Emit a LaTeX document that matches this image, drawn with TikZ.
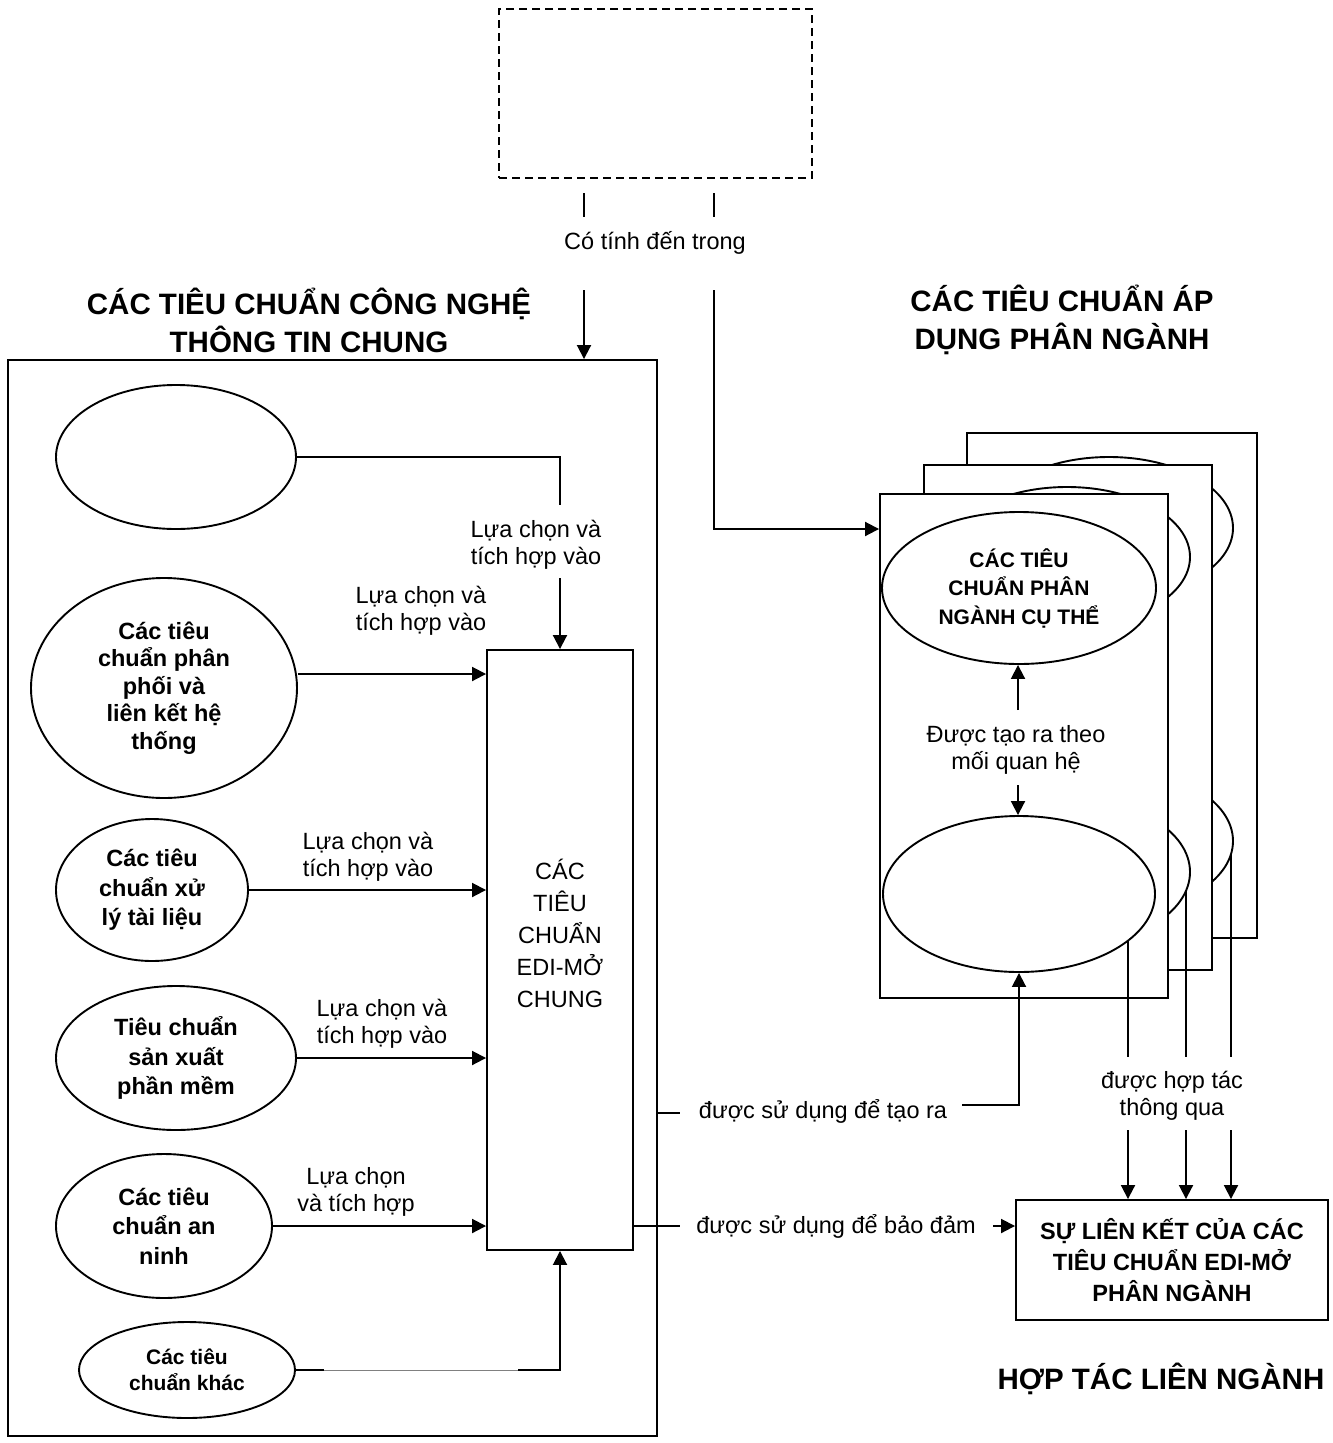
\documentclass[tikz,border=0pt]{standalone}
\usepackage{fontspec}
\setmainfont{Liberation Sans}
\usetikzlibrary{shapes.geometric,arrows.meta,calc}
\begin{document}
\begin{tikzpicture}[x=1pt,y=-1pt, line width=1.9pt,
  every node/.style={inner sep=0pt},
  lbl/.style={align=center, font=\fontsize{23.5}{27.5}\selectfont},
  btxt/.style={align=center, font=\bfseries\fontsize{23.5}{29.5}\selectfont},
  title/.style={align=center, font=\bfseries\fontsize{29.5}{38}\selectfont},
  ell/.style={draw, ellipse, fill=white, inner sep=0pt},
  box/.style={draw, rectangle, fill=white},
  arr/.style={-{Triangle[length=14pt,width=14pt]}},
]
\useasboundingbox (0,0) rectangle (1333,1443);

% top dashed box
\node[draw, dash pattern=on 8pt off 5pt, line width=1.6pt, minimum width=313pt, minimum height=169pt] (dbox) at (655.5,93.5) {};
\coordinate (s1a) at (584,193); \coordinate (s1b) at (584,217);
\coordinate (s2a) at (714,193); \coordinate (s2b) at (714,217);
\draw (s1a) -- (s1b);
\draw (s2a) -- (s2b);
\node[lbl] (cotinh) at (655,243) {Có tính đến trong};

% titles
\node[title] (t1) at (309,320) {CÁC TIÊU CHUẨN CÔNG NGHỆ\\THÔNG TIN CHUNG};
\node[title] (t2) at (1062,320) {CÁC TIÊU CHUẨN ÁP\\DỤNG PHÂN NGÀNH};
\node[title] (t3) at (1161,1379) {HỢP TÁC LIÊN NGÀNH};

% big left box
\node[draw, minimum width=649pt, minimum height=1076pt] (big) at (332.5,898) {};

% EDI box
\node[box, minimum width=146pt, minimum height=600pt] (edi) at (560,950) {};
\node[align=center, font=\fontsize{23.5}{32}\selectfont] (editxt) at (560,933) {CÁC\\TIÊU\\CHUẨN\\EDI-MỞ\\CHUNG};

% left ellipses
\node[ell, minimum width=240pt, minimum height=144pt] (e1) at (176,457) {};
\node[ell, minimum width=266pt, minimum height=220pt, btxt, font=\bfseries\fontsize{23.5}{27.5}\selectfont] (e2) at (164,688) {Các tiêu\\chuẩn phân\\phối và\\liên kết hệ\\thống};
\node[ell, minimum width=192pt, minimum height=142pt, btxt] (e3) at (152,890) {Các tiêu\\chuẩn xử\\lý tài liệu};
\node[ell, minimum width=240pt, minimum height=144pt, btxt] (e4) at (176,1058) {Tiêu chuẩn\\sản xuất\\phần mềm};
\node[ell, minimum width=216pt, minimum height=144pt, btxt] (e5) at (164,1226) {Các tiêu\\chuẩn an\\ninh};
\node[ell, minimum width=216pt, minimum height=96pt, btxt, font=\bfseries\fontsize{21}{26}\selectfont] (e6) at (187,1370) {Các tiêu\\chuẩn khác};

% left connectors
\coordinate (k1) at (560,505);
\coordinate (k1b) at (560,578);
\draw (e1.east) -| (k1);
\draw[arr] (k1b) -- (k1b |- edi.north);
\node[lbl] (lb1) at (536,545) {Lựa chọn và\\tích hợp vào};

\coordinate (c2) at ([yshift=14pt]e2.east);
\draw[arr] (c2) -- (c2 -| edi.west);
\node[lbl] (lb2) at (421,611) {Lựa chọn và\\tích hợp vào};

\draw[arr] (e3.east) -- (e3.east -| edi.west);
\node[lbl] (lb3) at (368,857) {Lựa chọn và\\tích hợp vào};

\draw[arr] (e4.east) -- (e4.east -| edi.west);
\node[lbl] (lb4) at (382,1024) {Lựa chọn và\\tích hợp vào};

\draw[arr] (e5.east) -- (e5.east -| edi.west);
\node[lbl] (lb5) at (356,1192) {Lựa chọn\\và tích hợp};

\coordinate (g1) at (324,1370);
\coordinate (g2) at (518,1370);
\draw (e6.east) -- (g1);
\draw[line width=0.8pt, gray] (g1) -- (g2);
\draw[arr] (g2) -| (edi.south);

% arrow from top into big box
\coordinate (l1) at (584,290);
\draw[arr] (l1) -- (l1 |- big.north);

% stacked boxes (back to front)
\node[box, minimum width=290pt, minimum height=505pt] (bbox) at (1112,685.5) {};
\node[ell, minimum width=248pt, minimum height=142pt] (btop) at (1109,528) {};
\node[ell, minimum width=248pt, minimum height=146pt] (bbot) at (1109,841) {};
\node[box, minimum width=288pt, minimum height=505pt] (mbox) at (1068,717.5) {};
\node[ell, minimum width=246pt, minimum height=140pt] (mtop) at (1067,557) {};
\node[ell, minimum width=246pt, minimum height=148pt] (mbot) at (1067,872) {};
\node[box, minimum width=288pt, minimum height=504pt] (fbox) at (1024,746) {};
\node[ell, minimum width=274pt, minimum height=152pt, btxt, font=\bfseries\fontsize{21}{28.5}\selectfont] (ftop) at (1019,588) {CÁC TIÊU\\CHUẨN PHÂN\\NGÀNH CỤ THỂ};
\node[ell, minimum width=272pt, minimum height=156pt] (fbot) at (1019,894) {};

% arrow from "Có tính đến trong" into front box
\coordinate (l2) at (714,290);
\coordinate (l2t) at (714,529);
\draw[arr] (l2) -- (l2t) -- (l2t -| fbox.west);

% relation arrows
\node[lbl] (rel) at (1016,750) {Được tạo ra theo\\mối quan hệ};
\coordinate (r1) at (1018,710);
\coordinate (r2) at (1018,785);
\draw[arr] (r1) -- (r1 |- ftop.south);
\draw[arr] (r2) -- (r2 |- fbot.north);

% used to create
\coordinate (tr2) at (680,1113);
\coordinate (tr3) at (962,1105);
\draw (big.east |- tr2) -- (tr2);
\node[lbl] (ltr) at (823,1111) {được sử dụng để tạo ra};
\draw[arr] (tr3) -| (fbot.south);

% link box
\node[box, minimum width=312pt, minimum height=120pt, align=center, font=\bfseries\fontsize{23.5}{31}\selectfont] (link) at (1172,1260) {SỰ LIÊN KẾT CỦA CÁC\\TIÊU CHUẨN EDI-MỞ\\PHÂN NGÀNH};

% used to ensure
\coordinate (bd1) at (680,1226);
\coordinate (bd2) at (993,1226);
\draw (edi.east |- bd1) -- (bd1);
\node[lbl] (lbd) at (836,1226) {được sử dụng để bảo đảm};
\draw[arr] (bd2) -- (bd2 -| link.west);

% cooperation verticals
\coordinate (v1t) at (1128,941);  \coordinate (v1b) at (1128,1057); \coordinate (v1c) at (1128,1130);
\coordinate (v2t) at (1186,891);  \coordinate (v2b) at (1186,1057); \coordinate (v2c) at (1186,1130);
\coordinate (v3t) at (1231,854);  \coordinate (v3b) at (1231,1057); \coordinate (v3c) at (1231,1130);
\draw (v1t) -- (v1b);
\draw (v2t) -- (v2b);
\draw (v3t) -- (v3b);
\draw[arr] (v1c) -- (v1c |- link.north);
\draw[arr] (v2c) -- (v2c |- link.north);
\draw[arr] (v3c) -- (v3c |- link.north);
\node[lbl] (lht) at (1172,1096) {được hợp tác\\thông qua};
\end{tikzpicture}
\end{document}
